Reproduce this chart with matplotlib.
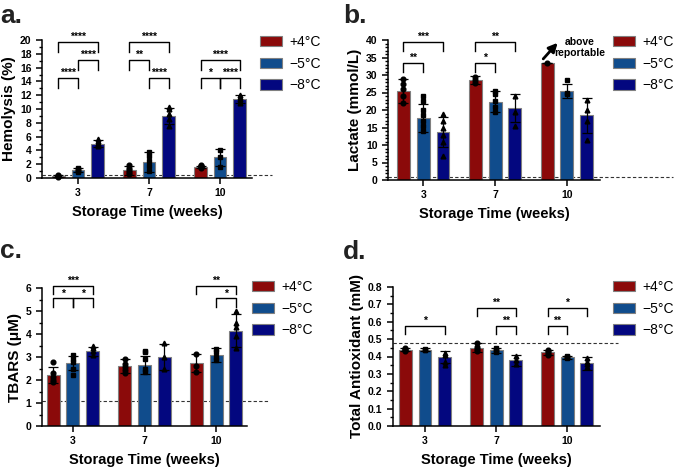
import numpy as np
import matplotlib
matplotlib.use('Agg')
import matplotlib.pyplot as plt
from matplotlib.ticker import MultipleLocator

plt.rcParams['font.family'] = ['Liberation Sans', 'DejaVu Sans']

weeks = ['3', '7', '10']
temps = ['+4\u00b0C', '\u22125\u00b0C', '\u22128\u00b0C']
colors = ['#8b0a0a', '#104c8c', '#03077f']
markers = ['o', 's', '^']

# rows = temperature (+4, -5, -8), columns = week (3, 7, 10)
hemo_mean = [[0.3, 1.1, 1.6], [1.1, 2.3, 3.0], [5.0, 9.0, 11.4]]
hemo_err = [[0.1, 0.7, 0.2], [0.3, 1.5, 1.2], [0.5, 1.2, 0.6]]
hemo_pts = [[[0.2, 0.3, 0.35, 0.3, 0.4], [0.6, 0.9, 1.2, 1.5, 1.9], [1.5, 1.6, 1.7, 1.8, 1.9]],
            [[0.9, 1.0, 1.2, 1.3, 1.4], [1.0, 1.8, 2.5, 3.2, 3.8], [1.6, 3.0, 4.1]],
            [[4.6, 4.9, 5.1, 5.4, 5.6], [7.5, 8.5, 9.3, 10.0, 10.3], [10.8, 11.2, 11.5, 11.8, 12.0]]]
hemo_sig = [(0, 0, 1, 14.5, '****'), (0, 1, 2, 17.1, '****'), (0, 0, 2, 19.7, '****'),
            (1, 0, 1, 17.1, '**'), (1, 1, 2, 14.5, '****'), (1, 0, 2, 19.7, '****'),
            (2, 0, 1, 14.5, '*'), (2, 1, 2, 14.5, '****'), (2, 0, 2, 17.1, '****')]

lact_mean = [[25.5, 28.5, 33.5], [17.8, 22.3, 25.5], [13.7, 20.7, 18.5]]
lact_err = [[3.5, 1.2, 0.0], [4.0, 3.0, 2.0], [4.3, 4.0, 5.0]]
lact_pts = [[[22, 24, 26, 27.5, 29], [27.8, 28.5, 29.5], [33.5]],
            [[14, 15.5, 17, 18.5, 20, 22.5, 24], [19.5, 21, 22.5, 24.5, 25.5], [24.5, 25, 28.5]],
            [[7, 11, 13, 15, 17, 19], [15.5, 19.5, 24], [11.5, 17, 20, 23]]]
lact_sig = [(0, 0, 1, 33.4, '**'), (0, 0, 2, 39.4, '***'),
            (1, 0, 1, 33.4, '*'), (1, 0, 2, 39.4, '**')]

tbars_mean = [[2.2, 2.6, 2.75], [2.75, 2.65, 3.1], [3.25, 3.0, 4.15]]
tbars_err = [[0.35, 0.3, 0.4], [0.3, 0.4, 0.3], [0.2, 0.55, 0.7]]
tbars_pts = [[[1.9, 2.0, 2.15, 2.3, 2.8], [2.3, 2.45, 2.55, 2.7, 2.9], [2.35, 2.6, 3.15]],
             [[2.2, 2.5, 2.8, 2.9, 3.1], [2.35, 2.5, 2.9, 3.2, 3.25], [2.85, 3.0, 3.2, 3.35]],
             [[3.1, 3.25, 3.4, 3.5], [2.5, 3.0, 3.6], [3.4, 3.9, 4.3, 4.5, 5.0]]]
tbars_sig = [(0, 0, 1, 5.55, '*'), (0, 1, 2, 5.55, '*'), (0, 0, 2, 6.1, '***'),
             (2, 1, 2, 5.55, '*'), (2, 0, 2, 6.1, '**')]

tac_mean = [[0.44, 0.45, 0.425], [0.44, 0.435, 0.395], [0.395, 0.378, 0.36]]
tac_err = [[0.01, 0.025, 0.015], [0.008, 0.015, 0.01], [0.035, 0.03, 0.04]]
tac_pts = [[[0.43, 0.44, 0.445, 0.45], [0.43, 0.445, 0.455, 0.475], [0.41, 0.42, 0.43, 0.44]],
           [[0.435, 0.44, 0.445], [0.425, 0.435, 0.44, 0.45], [0.39, 0.395, 0.4, 0.405]],
           [[0.35, 0.37, 0.41, 0.42], [0.355, 0.38, 0.405], [0.34, 0.355, 0.37, 0.39]]]
tac_sig = [(0, 0, 2, 0.575, '*'), (1, 1, 2, 0.575, '**'), (1, 0, 2, 0.68, '**'),
           (2, 0, 1, 0.575, '**'), (2, 0, 2, 0.68, '*')]

W, H = 675, 467
fig = plt.figure(figsize=(W / 100, H / 100), dpi=100)


def px_axes(left, top, right, bottom):
    return fig.add_axes([left / W, 1 - bottom / H, (right - left) / W, (bottom - top) / H])


offs = [-0.275, 0.0, 0.275]
bw = 0.18


def panel(ax, mean, err, pts, sig, leg, ylab, ylim, major, minor, xlim, dash, dash_end, leg_pos):
    x = np.arange(3)
    for i in range(3):
        ax.bar(x + offs[i], mean[i], bw, color=colors[i], edgecolor='#808080', linewidth=0.8,
               label=temps[i], zorder=2)
        ax.errorbar(x + offs[i], mean[i], yerr=err[i], fmt='none', ecolor='black',
                    elinewidth=0.9, capsize=3.5, capthick=0.9, zorder=3)
        for g in range(3):
            ax.plot([g + offs[i]] * len(pts[i][g]), pts[i][g], markers[i], color='black',
                    markersize=3.4, zorder=4, clip_on=False)
    for g, i, j, y, s in sig:
        x1, x2 = g + offs[i], g + offs[j]
        ax.plot([x1, x1, x2, x2], [y - leg, y, y, y - leg], color='black', lw=1, clip_on=False)
        ax.text((x1 + x2) / 2, y, s, ha='center', va='bottom', fontsize=7.5,
                fontweight='bold')
    ax.plot([xlim[0], dash_end], [dash, dash], '--', color='#333333', lw=0.8, clip_on=False,
            zorder=1, dashes=(3, 2))
    ax.set_xlim(xlim)
    ax.set_ylim(ylim)
    ax.yaxis.set_major_locator(MultipleLocator(major))
    ax.yaxis.set_minor_locator(MultipleLocator(minor))
    ax.set_xticks(x)
    ax.set_xticklabels(weeks)
    ax.spines[['top', 'right']].set_visible(False)
    for s in ['left', 'bottom']:
        ax.spines[s].set_linewidth(1.1)
    ax.tick_params(which='major', length=4, width=1.1, labelsize=7.5)
    ax.tick_params(which='minor', length=2.5, width=1.0)
    for t in ax.get_xticklabels() + ax.get_yticklabels():
        t.set_fontweight('bold')
    ax.set_ylabel(ylab, fontsize=11, fontweight='bold', labelpad=3)
    ax.set_xlabel('Storage Time (weeks)', fontsize=10.5, fontweight='bold', labelpad=5)
    ax.legend(loc='upper left', bbox_to_anchor=leg_pos, bbox_transform=fig.transFigure,
              frameon=False, fontsize=10, handlelength=1.6, handleheight=0.8,
              labelspacing=0.55, borderpad=0, borderaxespad=0, handletextpad=0.5)


ax_a = px_axes(42, 40, 252, 178)
panel(ax_a, hemo_mean, hemo_err, hemo_pts, hemo_sig, 1.5, 'Hemolysis (%)', (0, 20), 2, 1,
      (-0.507, 2.45), 0.45, 2.73, (260 / W, 1 - 35 / H))

ax_b = px_axes(388, 40, 600, 180)
panel(ax_b, lact_mean, lact_err, lact_pts, lact_sig, 2.4, 'Lactate (mmol/L)', (0, 40), 5, 1,
      (-0.49, 2.46), 1.0, 3.47, (613 / W, 1 - 35 / H))
ax_b.annotate('', xy=(1.87, 39.2), xytext=(1.67, 34.6),
              arrowprops=dict(arrowstyle='-|>', color='black', lw=2, mutation_scale=13,
                              shrinkA=0, shrinkB=0),
              annotation_clip=False)
ax_b.text(2.18, 37.8, 'above\nreportable', ha='center', va='center', fontsize=7.5,
          fontweight='bold', linespacing=1.1)

ax_c = px_axes(42, 288, 247, 426)
panel(ax_c, tbars_mean, tbars_err, tbars_pts, tbars_sig, 0.37, 'TBARS (\u03bcM)', (0, 6), 1, 0.5,
      (-0.43, 2.43), 1.1, 2.73, (252 / W, 1 - 280 / H))

ax_d = px_axes(393, 287, 600, 426)
panel(ax_d, tac_mean, tac_err, tac_pts, tac_sig, 0.047, 'Total Antioxidant (mM)', (0, 0.8), 0.1,
      0.05, (-0.45, 2.46), 0.48, 2.72, (613 / W, 1 - 280 / H))
ax_d.yaxis.set_major_formatter(matplotlib.ticker.FormatStrFormatter('%.1f'))

for lab, xp, yp in [('a.', 0, 23), ('b.', 343, 23), ('c.', 0, 258), ('d.', 343, 259)]:
    fig.text(xp / W, 1 - yp / H, lab, fontsize=19, fontweight='bold', ha='left',
             va='baseline', color='#222222')

fig.savefig('out.png', dpi=100)
